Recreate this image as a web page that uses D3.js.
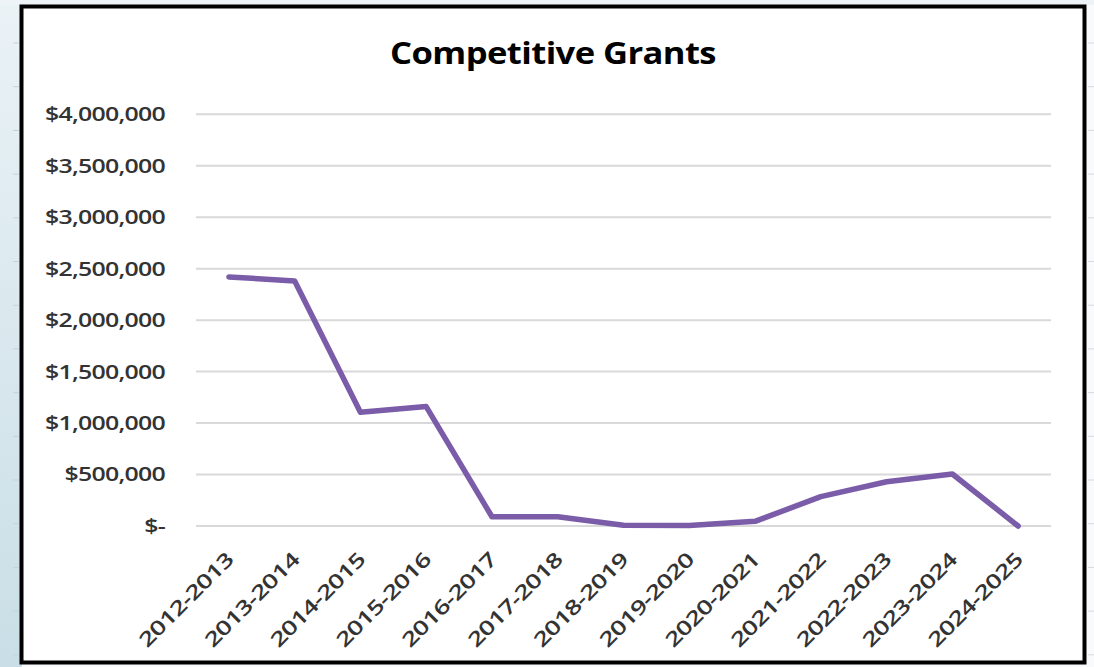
<!DOCTYPE html>
<html><head><meta charset="utf-8">
<script src="https://cdn.jsdelivr.net/npm/d3@7"></script>
<style>html,body{margin:0;padding:0;background:#fff;}svg{display:block;}</style>
</head><body>
<svg id="c" width="1094" height="667"></svg>
<script>
const categories = ["2012-2013","2013-2014","2014-2015","2015-2016","2016-2017","2017-2018","2018-2019","2019-2020","2020-2021","2021-2022","2022-2023","2023-2024","2024-2025"];
const values = [2420000,2380000,1105000,1160000,90000,90000,8000,5000,45000,285000,430000,505000,0];
const yTicks = [0,500000,1000000,1500000,2000000,2500000,3000000,3500000,4000000];
const title = "Competitive Grants";

const FONT = "'Open Sans', Lato, sans-serif";
const svg = d3.select("#c");
const defs = svg.append("defs");
const lg = defs.append("linearGradient").attr("id","lg").attr("x1",0).attr("y1",0).attr("x2",0).attr("y2",1);
lg.append("stop").attr("offset","0%").attr("stop-color","#eaf2f6");
lg.append("stop").attr("offset","100%").attr("stop-color","#c9dee6");
svg.append("rect").attr("x",0).attr("y",0).attr("width",1094).attr("height",667).attr("fill","#f8fafb");
svg.append("rect").attr("x",0).attr("y",0).attr("width",22).attr("height",667).attr("fill","url(#lg)");
svg.append("rect").attr("x",0).attr("y",0).attr("width",1094).attr("height",5).attr("fill","#edf3f6");
const stripTicks = d3.range(43, 667, 43.7);
svg.append("g").selectAll("line").data(stripTicks).join("line")
  .attr("x1",13).attr("x2",19).attr("y1",d=>d).attr("y2",d=>d).attr("stroke","#c4d3da").attr("stroke-width",1);
svg.append("g").selectAll("line").data(stripTicks).join("line")
  .attr("x1",1088).attr("x2",1094).attr("y1",d=>d).attr("y2",d=>d).attr("stroke","#d6dadc").attr("stroke-width",1);

svg.append("rect").attr("x",21.5).attr("y",6.5).attr("width",1063).attr("height",656)
  .attr("fill","#fff").attr("stroke","#000").attr("stroke-width",4);

const x0 = 196, x1 = 1051;
const x = d3.scaleBand().domain(categories).range([x0,x1]).paddingInner(0).paddingOuter(0);
const y = d3.scaleLinear().domain([0,4000000]).range([526,114.3]);

svg.append("g").selectAll("line").data(yTicks).join("line")
  .attr("x1",x0).attr("x2",x1).attr("y1",d=>y(d)).attr("y2",d=>y(d))
  .attr("stroke","#d9d9d9").attr("stroke-width",2);

const fmt = d => d===0 ? "$-" : "$" + d3.format(",")(d);
const yAxis = d3.axisLeft(y).tickValues(yTicks).tickFormat(fmt).tickSize(0).tickPadding(0);
const gy = svg.append("g").attr("transform","translate(165,0)").call(yAxis);
gy.select(".domain").remove();
gy.selectAll("text").attr("font-family",FONT).attr("font-size",20).attr("font-weight",600)
  .attr("letter-spacing",-0.6).attr("fill","#333");
const refW = gy.selectAll("text").filter(d=>d===4000000).node().getComputedTextLength();
const sy = 120/refW;
gy.selectAll("text").attr("transform",`scale(${sy},1)`);

const xAxis = d3.axisBottom(x).tickSize(0).tickPadding(0);
const gx = svg.append("g").attr("transform","translate(0,526)").call(xAxis);
gx.select(".domain").remove();
gx.selectAll("text")
  .attr("font-family",FONT).attr("font-size",20).attr("font-weight",600).attr("letter-spacing",-0.6)
  .attr("fill","#333").attr("text-anchor","end").attr("dy",0);
const lw = gx.select("text").node().getComputedTextLength();
const sx = 124/lw;
gx.selectAll("text").attr("transform",`translate(6,35) rotate(-45) scale(${sx},1)`);

const line = d3.line().x((d,i)=>x(categories[i])+x.bandwidth()/2).y(d=>y(d));
svg.append("path").datum(values).attr("d",line).attr("fill","none")
  .attr("stroke","#7a5ca8").attr("stroke-width",5.5).attr("stroke-linejoin","round").attr("stroke-linecap","round");

const t = svg.append("text").attr("x",0).attr("y",0).attr("text-anchor","middle")
  .attr("font-family",FONT).attr("font-weight","bold").attr("font-size",30).attr("letter-spacing",-0.5).attr("fill","#000")
  .text(title);
const tw = t.node().getComputedTextLength();
t.attr("transform",`translate(553,64) scale(${326/tw},1)`);
</script>
</body></html>
